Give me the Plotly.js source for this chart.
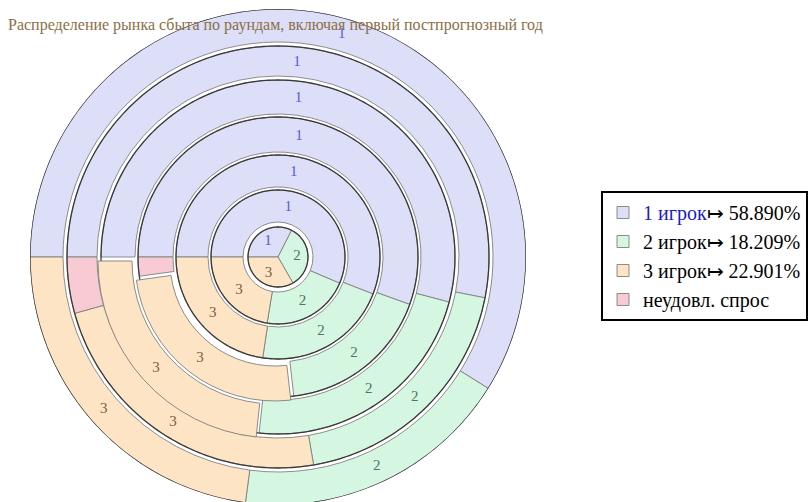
<!DOCTYPE html>
<html>
<head>
<meta charset="utf-8">
<script src="https://cdn.plot.ly/plotly-3.0.1.min.js"></script>
<style>
html,body{margin:0;padding:0;background:#fff;overflow:hidden;}
#chart{width:812px;height:512px;}
</style>
</head>
<body>
<div id="chart"></div>
<script>
// ---------------- DATA ----------------
const titleText = 'Распределение рынка сбыта по раундам, включая первый постпрогнозный год';
const categories = ['1 игрок', '2 игрок', '3 игрок', 'неудовл. спрос'];
const segmentLabels = ['1', '2', '3', ''];
const rounds = ['1', '2', '3', '4', '5', '6', '7'];
// share of the market (%) per round, innermost (round 1) to outermost (first post-forecast year)
const player1 = [32.5, 56.4, 55.9, 55.5, 54.1, 53.1, 58.890];
const player2 = [34.2, 21.2, 21.5, 17.7, 22.6, 19.2, 18.209];
const player3 = [33.3, 22.4, 22.6, 24.6, 23.3, 23.4, 22.901];
const unmet   = [0,    0,    0,    2.2,  0,    4.3,  0];

// ---------------- STYLE / GEOMETRY ----------------
const series = [player1, player2, player3, unmet];
const W = 812, H = 512;
const CX = 278, CY = 257, R = 248;
const ringInner = [0, 35, 70, 105, 143, 181, 215];
const ringOuter = [30, 67, 102, 140, 177, 211, 248];
const explodedCells = {'3-2': true, '4-2': true}; // round index - series index
const shift = {dx: -3, dy: 4};
const fills = ['#dcdff7', '#d5f7e2', '#fde4c4', '#f8cbd4'];
const labelColors = ['#5a5ad6', '#4e7462', '#7d5f3e'];
const START = 270;
const serif = 'Liberation Serif, Times New Roman, serif';

function mod(a) { return ((a % 360) + 360) % 360; }

const traces = [];
const labelData = [[], []]; // per subplot
const segs = series.map(() => ({main: {t: [], w: [], r: [], b: []}, exp: {t: [], w: [], r: [], b: []}}));

rounds.forEach((rd, i) => {
  let cum = START;
  series.forEach((arr, s) => {
    const v = arr[i];
    if (v > 0) {
      const w = v * 3.6;
      const c = mod(cum + w / 2);
      const key = explodedCells[i + '-' + s] ? 'exp' : 'main';
      const g = segs[s][key];
      g.t.push(c); g.w.push(w);
      g.r.push(ringOuter[i] - ringInner[i]); g.b.push(ringInner[i]);
      if (segmentLabels[s]) {
        const rl = i === 0 ? 19 : (ringInner[i] + ringOuter[i]) / 2;
        labelData[key === 'exp' ? 1 : 0].push({t: c, r: rl, s: s});
      }
      cum += w;
    }
  });
});

const legendNames = categories.map((c, s) => {
  if (s === 3) return c;
  const pct = series[s][series[s].length - 1].toFixed(3) + '%';
  const head = s === 0 ? '<span style="color:#1a1acc">' + c + '</span>' : c;
  return head + '↦ ' + pct;
});

// ring outline circles (dark outer edges)
ringOuter.forEach((ro) => {
  const th = [], rr = [];
  for (let a = 0; a <= 360; a += 1) { th.push(a); rr.push(ro); }
  traces.push({type: 'scatterpolar', subplot: 'polar', mode: 'lines', r: rr, theta: th,
    line: {color: '#3a3a3a', width: 1.3}, showlegend: false, hoverinfo: 'skip'});
});

series.forEach((arr, s) => {
  const g = segs[s].main;
  traces.push({type: 'barpolar', subplot: 'polar', name: legendNames[s],
    theta: g.t, width: g.w, r: g.r, base: g.b,
    marker: {color: fills[s], line: {color: '#808080', width: 0.9}},
    hoverinfo: 'skip', showlegend: true});
});
series.forEach((arr, s) => {
  const g = segs[s].exp;
  if (g.t.length) {
    traces.push({type: 'barpolar', subplot: 'polar2', name: legendNames[s],
      theta: g.t, width: g.w, r: g.r, base: g.b,
      marker: {color: fills[s], line: {color: '#808080', width: 0.9}},
      hoverinfo: 'skip', showlegend: false});
  }
});

['polar', 'polar2'].forEach((sp, k) => {
  const L = labelData[k];
  [0, 1, 2].forEach((s) => {
    const pts = L.filter(p => p.s === s);
    if (!pts.length) return;
    traces.push({type: 'scatterpolar', subplot: sp, mode: 'text',
      r: pts.map(p => p.r), theta: pts.map(p => p.t),
      text: pts.map(() => segmentLabels[s]),
      textfont: {family: serif, size: 15, color: labelColors[s]},
      showlegend: false, hoverinfo: 'skip'});
  });
});

function polarCfg(dx, dy) {
  return {
    domain: {
      x: [(CX - R + dx) / W, (CX + R + dx) / W],
      y: [(H - (CY + R + dy)) / H, (H - (CY - R + dy)) / H]
    },
    bgcolor: 'rgba(0,0,0,0)',
    hole: 0,
    radialaxis: {range: [0, R], visible: false, showgrid: false, showline: false, showticklabels: false, ticks: ''},
    angularaxis: {direction: 'clockwise', rotation: 90, visible: false, showgrid: false,
      showline: false, showticklabels: false, ticks: ''}
  };
}

const layout = {
  width: W, height: H,
  margin: {l: 0, r: 0, t: 0, b: 0},
  paper_bgcolor: '#fff',
  title: {text: titleText, x: 8 / W, xanchor: 'left', xref: 'container',
    y: 1 - 24 / H, yanchor: 'middle', yref: 'container',
    font: {family: serif, size: 16, color: '#8c6e48'}},
  polar: polarCfg(0, 0),
  polar2: polarCfg(shift.dx, shift.dy),
  showlegend: true,
  legend: {x: 601 / W, xanchor: 'left', y: 1 - 191 / H, yanchor: 'top',
    bgcolor: '#fff', bordercolor: '#000', borderwidth: 2,
    font: {family: serif, size: 20, color: '#000'}, traceorder: 'normal'}
};

Plotly.newPlot('chart', traces, layout, {displayModeBar: false, staticPlot: true});
</script>
</body>
</html>
